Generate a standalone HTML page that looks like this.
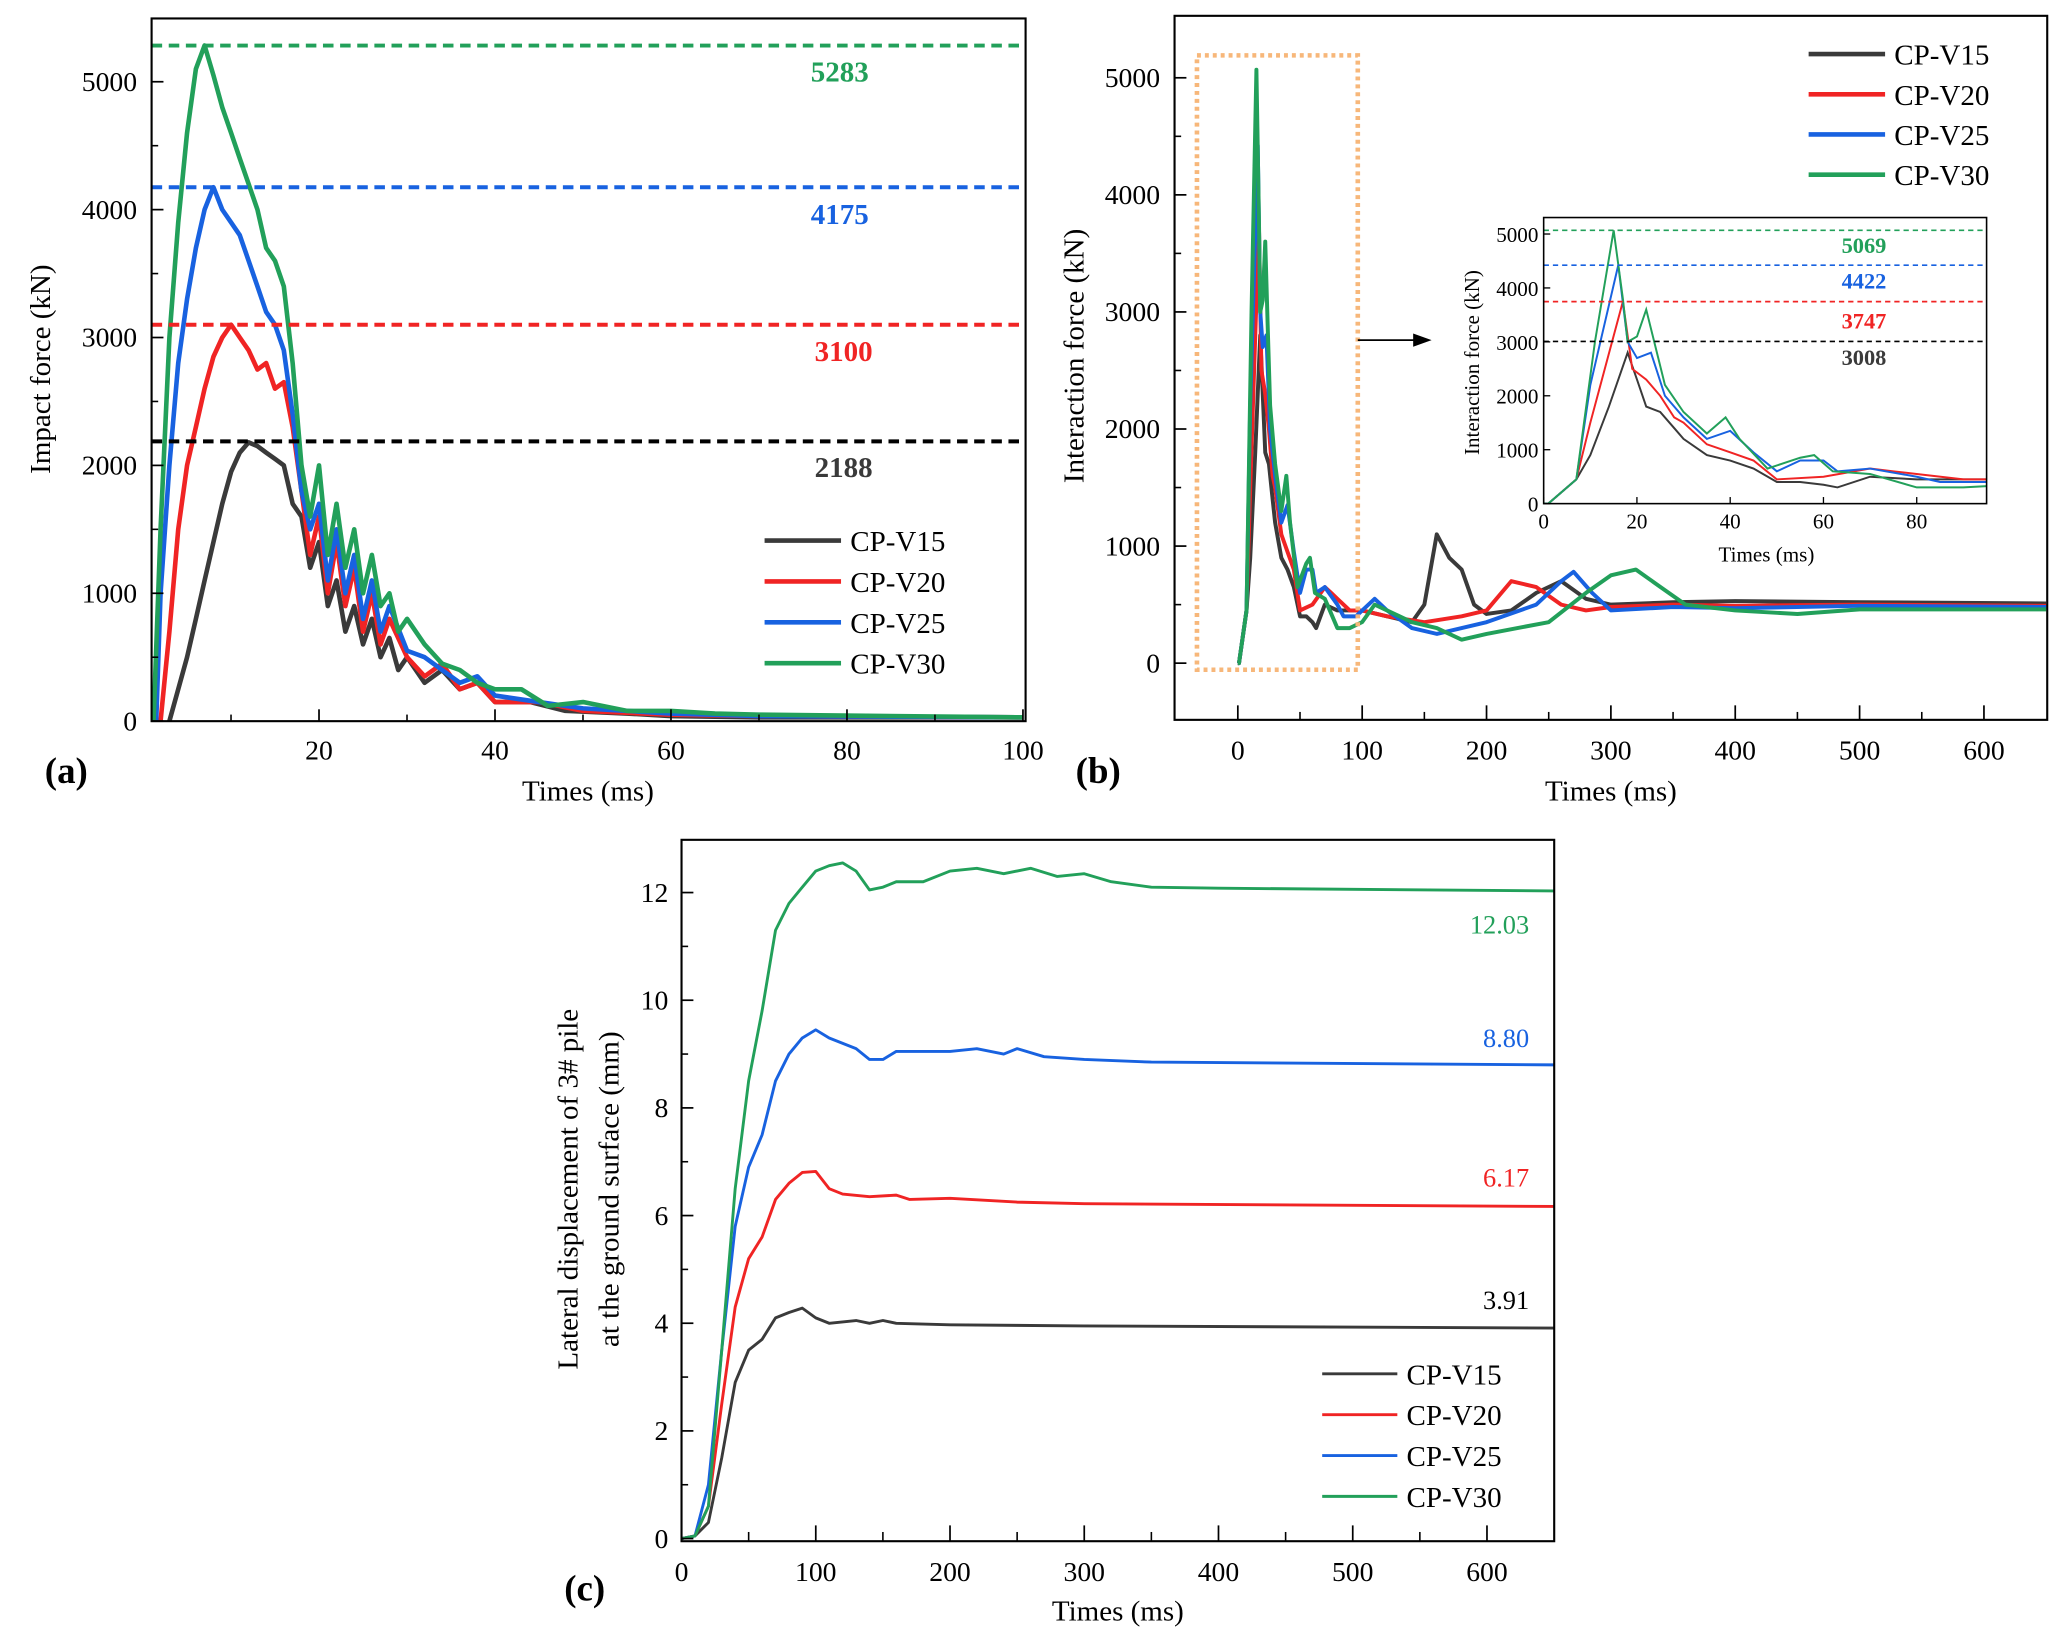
<!DOCTYPE html>
<html><head><meta charset="utf-8"><style>
html,body{margin:0;padding:0;background:#fff}
svg{display:block;font-family:"Liberation Serif",serif}
</style></head><body>
<svg id="fig" width="2067" height="1648" viewBox="0 0 1568 1250" preserveAspectRatio="none" xmlns="http://www.w3.org/2000/svg">
<g id="root"></g>
</svg>
<script>
// ---------- data ----------
const seriesNames = ["CP-V15","CP-V20","CP-V25","CP-V30"];
const aV15 = [[3,0],[4,250],[5,500],[6,800],[7,1100],[8,1400],[9,1700],[10,1950],[11,2100],[12,2180],[13,2150],[14,2100],[15,2050],[16,2000],[17,1700],[18,1600],[19,1200],[20,1400],[21,900],[22,1100],[23,700],[24,900],[25,600],[26,800],[27,500],[28,650],[29,400],[30,500],[32,300],[34,400],[36,250],[38,300],[40,150],[44,150],[48,80],[55,60],[60,40],[70,30],[100,30]];
const aV20 = [[2,0],[3,700],[4,1500],[5,2000],[6,2300],[7,2600],[8,2850],[9,3000],[10,3100],[11,3000],[12,2900],[13,2750],[14,2800],[15,2600],[16,2650],[17,2300],[18,1800],[19,1300],[20,1600],[21,1000],[22,1400],[23,900],[24,1200],[25,700],[26,1000],[27,600],[28,800],[30,500],[32,350],[34,450],[36,250],[38,300],[40,150],[45,150],[50,80],[60,50],[70,40],[100,30]];
const aV25 = [[1.5,0],[2,1000],[3,2000],[4,2800],[5,3300],[6,3700],[7,4000],[8,4175],[9,4000],[10,3900],[11,3800],[12,3600],[13,3400],[14,3200],[15,3100],[16,2900],[17,2400],[18,1800],[19,1500],[20,1700],[21,1100],[22,1500],[23,1000],[24,1300],[25,800],[26,1100],[27,700],[28,900],[30,550],[32,500],[34,400],[36,300],[38,350],[40,200],[45,150],[50,100],[60,60],[70,40],[100,30]];
const aV30 = [[1.2,0],[2,1500],[3,3000],[4,3900],[5,4600],[6,5100],[7,5283],[8,5050],[9,4800],[10,4600],[11,4400],[12,4200],[13,4000],[14,3700],[15,3600],[16,3400],[17,2800],[18,2000],[19,1600],[20,2000],[21,1300],[22,1700],[23,1200],[24,1500],[25,1000],[26,1300],[27,900],[28,1000],[29,700],[30,800],[32,600],[34,450],[36,400],[38,300],[40,250],[43,250],[46,120],[50,150],[55,80],[60,80],[65,60],[70,50],[100,30]];
const aPeaks = [2188,3100,4175,5283];
const aXTicks = [20,40,60,80,100];
const aYTicks = [0,1000,2000,3000,4000,5000];

const bV15 = [[0,0],[1,0],[7,450],[10,900],[14,1800],[18,2800],[20,2300],[22,1800],[25,1700],[28,1400],[30,1200],[35,900],[40,800],[45,650],[50,400],[55,400],[60,350],[63,300],[70,500],[80,450],[90,450],[100,450],[120,400],[140,350],[150,500],[160,1100],[170,900],[180,800],[190,500],[200,420],[220,450],[240,600],[260,700],[280,550],[300,500],[350,520],[400,530],[500,520],[650,510]];
const bV20 = [[0,0],[1,0],[7,450],[10,1500],[17,3747],[19,2500],[22,2300],[25,2000],[28,1600],[30,1500],[35,1100],[40,950],[45,800],[50,450],[60,500],[70,650],[75,600],[80,550],[90,450],[100,450],[120,400],[150,350],[180,400],[200,450],[220,700],[240,650],[260,500],[280,450],[300,480],[350,500],[400,490],[500,500],[650,490]];
const bV25 = [[0,0],[1,0],[7,450],[10,2200],[16,4422],[18,3000],[20,2700],[23,2800],[26,2000],[30,1600],[35,1200],[40,1350],[45,950],[50,600],[55,800],[60,800],[63,600],[70,650],[80,500],[85,400],[95,400],[110,550],[120,450],[140,300],[160,250],[180,300],[200,350],[240,500],[260,700],[270,780],[285,600],[300,450],[350,480],[400,470],[500,490],[650,480]];
const bV30 = [[0,0],[1,0],[7,450],[11,3000],[15,5069],[17,3800],[18,3000],[20,3100],[22,3600],[24,2900],[26,2200],[30,1700],[35,1300],[39,1600],[42,1200],[48,650],[55,850],[58,900],[62,600],[70,550],[80,300],[90,300],[100,350],[110,500],[120,450],[140,350],[160,300],[180,200],[200,250],[250,350],[280,600],[300,750],[320,800],[340,650],[360,500],[400,450],[450,420],[500,460],[650,460]];
const bPeaks = [3008,3747,4422,5069];
const bXTicks = [0,100,200,300,400,500,600];
const bYTicks = [0,1000,2000,3000,4000,5000];
const insetXTicks = [0,20,40,60,80];

const cV15 = [[0,0],[10,0.05],[20,0.3],[30,1.5],[40,2.9],[50,3.5],[60,3.7],[70,4.1],[80,4.2],[90,4.28],[100,4.1],[110,4.0],[130,4.05],[140,4.0],[150,4.05],[160,4.0],[200,3.97],[250,3.96],[300,3.95],[650,3.91]];
const cV20 = [[0,0],[10,0.05],[20,0.6],[30,2.5],[40,4.3],[50,5.2],[60,5.6],[70,6.3],[80,6.6],[90,6.8],[100,6.82],[110,6.5],[120,6.4],[140,6.35],[160,6.38],[170,6.3],[200,6.32],[250,6.25],[300,6.22],[650,6.17]];
const cV25 = [[0,0],[10,0.05],[20,1.0],[30,3.5],[40,5.8],[50,6.9],[60,7.5],[70,8.5],[80,9.0],[90,9.3],[100,9.45],[110,9.3],[130,9.1],[140,8.9],[150,8.9],[160,9.05],[200,9.05],[220,9.1],[240,9.0],[250,9.1],[270,8.95],[300,8.9],[350,8.85],[650,8.80]];
const cV30 = [[0,0],[10,0.05],[20,0.6],[30,3.5],[40,6.5],[50,8.5],[60,9.8],[70,11.3],[80,11.8],[90,12.1],[100,12.4],[110,12.5],[120,12.55],[130,12.4],[140,12.05],[150,12.1],[160,12.2],[180,12.2],[200,12.4],[220,12.45],[240,12.35],[260,12.45],[280,12.3],[300,12.35],[320,12.2],[350,12.1],[400,12.08],[650,12.03]];
const cFinal = ["3.91","6.17","8.80","12.03"];
const cXTicks = [0,100,200,300,400,500,600];
const cYTicks = [0,2,4,6,8,10,12];

const colors = ["#3a3a3a","#f02424","#1862e0","#22a05a"];
const NS = "http://www.w3.org/2000/svg";
const root = document.getElementById("root");
function mk(tag, attrs, parent, text){
  const e = document.createElementNS(NS, tag);
  for (const k in attrs) e.setAttribute(k, attrs[k]);
  if (text !== undefined) e.textContent = text;
  (parent || root).appendChild(e);
  return e;
}
function lin(d0,d1,r0,r1){ return v => r0 + (v-d0)*(r1-r0)/(d1-d0); }
function pathFrom(data, sx, sy, xmax){
  return data.filter(p=>p[0]<=xmax+1e-9).map((p,i)=>(i?"L":"M")+sx(p[0]).toFixed(1)+","+sy(p[1]).toFixed(1)).join(" ");
}

// ---------- panel (a) ----------
(function(){
  const g = mk("g",{});
  
  
  const L=115,R=778,T=14,B=547;
  const sx = lin(20,100,242,776), sy = lin(0,5000,547,62);
  const cp=mk("clipPath",{id:"clipA"},g); mk("rect",{x:L,y:T,width:R-L,height:B-T},cp);
  const data=[aV15,aV20,aV25,aV30];
  const lines = mk("g",{"clip-path":"url(#clipA)"},g);
  for(let i=0;i<4;i++){
    const p = mk("path",{d:pathFrom(data[i],sx,sy,100),fill:"none",stroke:colors[i],"stroke-width":3.5,"stroke-linejoin":"round"},lines);
    
    
  }
  const labY=[362,274,170,62], labX=[640,640,637,637];
  for(let i=0;i<4;i++){
    const l = mk("line",{x1:L,x2:R,y1:sy(aPeaks[i]),y2:sy(aPeaks[i]),stroke:i==0?"#000":colors[i],"stroke-width":3,"stroke-dasharray":"8,5"},g);
    
    
    const t = mk("text",{x:labX[i],y:labY[i],"text-anchor":"middle","font-size":22,"font-weight":"bold",fill:i==0?"#3a3a3a":colors[i]},g,String(aPeaks[i]));
    
    
  }
  mk("rect",{x:L,y:T,width:R-L,height:B-T,fill:"none",stroke:"#000","stroke-width":1.6},g);
  for(const v of aXTicks){ mk("line",{x1:sx(v),x2:sx(v),y1:B,y2:B-9,stroke:"#000","stroke-width":1.3},g);
    const t=mk("text",{x:sx(v),y:576,"text-anchor":"middle","font-size":21},g,String(v));
      }
  for(const v of [10,30,50,70,90]) mk("line",{x1:sx(v),x2:sx(v),y1:B,y2:B-5,stroke:"#000","stroke-width":1.2},g);
  for(const v of aYTicks){ mk("line",{x1:L,x2:L+9,y1:sy(v),y2:sy(v),stroke:"#000","stroke-width":1.3},g);
    const t=mk("text",{x:104,y:sy(v)+7,"text-anchor":"end","font-size":21},g,String(v));
      }
  for(const v of [500,1500,2500,3500,4500]) mk("line",{x1:L,x2:L+5,y1:sy(v),y2:sy(v),stroke:"#000","stroke-width":1.2},g);
  let t=mk("text",{x:446,y:607,"text-anchor":"middle","font-size":22},g,"Times (ms)");
   
  t=mk("text",{transform:"translate(38,280) rotate(-90)","text-anchor":"middle","font-size":22},g,"Impact force (kN)");
   
  t=mk("text",{x:34,y:594,"font-size":28,"font-weight":"bold"},g,"(a)");
   
  for(let i=0;i<4;i++){ const y=410+i*31;
    const lg=mk("g",{},g);  
    mk("line",{x1:580,x2:638,y1:y,y2:y,stroke:colors[i],"stroke-width":3.5},lg);
    mk("text",{x:645,y:y+8,"font-size":22},lg,seriesNames[i]); }
})();

// ---------- panel (b) ----------
(function(){
  const g = mk("g",{});
  
  
  const L=891,R=1553,T=12,B=546;
  const sx = lin(0,600,939,1505), sy = lin(0,5000,503,59);
  const cp=mk("clipPath",{id:"clipB"},g); mk("rect",{x:L,y:T,width:R-L,height:B-T},cp);
  const data=[bV15,bV20,bV25,bV30];
  const lines = mk("g",{"clip-path":"url(#clipB)"},g);
  for(let i=0;i<4;i++){
    const p=mk("path",{d:pathFrom(data[i],sx,sy,650),fill:"none",stroke:colors[i],"stroke-width":3,"stroke-linejoin":"round"},lines);
    
    
  }
  const zb=mk("rect",{x:908,y:42,width:122,height:466,fill:"none",stroke:"#f7b77a","stroke-width":3.5,"stroke-dasharray":"3,3"},g);
   
  mk("rect",{x:L,y:T,width:R-L,height:B-T,fill:"none",stroke:"#000","stroke-width":1.6},g);
  for(const v of bXTicks){ mk("line",{x1:sx(v),x2:sx(v),y1:B,y2:B-11,stroke:"#000","stroke-width":1.3},g);
    const t=mk("text",{x:sx(v),y:576,"text-anchor":"middle","font-size":21},g,String(v));
      }
  for(const v of [50,150,250,350,450,550]) mk("line",{x1:sx(v),x2:sx(v),y1:B,y2:B-6,stroke:"#000","stroke-width":1.2},g);
  for(const v of bYTicks){ mk("line",{x1:L,x2:L+9,y1:sy(v),y2:sy(v),stroke:"#000","stroke-width":1.3},g);
    const t=mk("text",{x:880,y:sy(v)+7,"text-anchor":"end","font-size":21},g,String(v));
      }
  for(const v of [500,1500,2500,3500,4500]) mk("line",{x1:L,x2:L+5,y1:sy(v),y2:sy(v),stroke:"#000","stroke-width":1.2},g);
  let t=mk("text",{x:1222,y:607,"text-anchor":"middle","font-size":22},g,"Times (ms)");
   
  t=mk("text",{transform:"translate(822,270) rotate(-90)","text-anchor":"middle","font-size":22},g,"Interaction force (kN)");
   
  t=mk("text",{x:816,y:594,"font-size":28,"font-weight":"bold"},g,"(b)");
   
  for(let i=0;i<4;i++){ const y=41+i*30.5;
    const lg=mk("g",{},g);  
    mk("line",{x1:1372,x2:1430,y1:y,y2:y,stroke:colors[i],"stroke-width":3.5},lg);
    mk("text",{x:1437,y:y+8,"font-size":22},lg,seriesNames[i]); }
  const ar=mk("g",{},g);  
  mk("line",{x1:1030,x2:1074,y1:258,y2:258,stroke:"#000","stroke-width":1.3},ar);
  mk("polygon",{points:"1086,258 1072,253 1072,263",fill:"#000"},ar);

  // inset
  const ig=mk("g",{},g);  
  const iL=1171,iR=1507,iT=165,iB=382;
  const ix=lin(0,80,1171,1454), iy=lin(0,5000,382,177.5);
  mk("rect",{x:iL,y:iT,width:iR-iL,height:iB-iT,fill:"#fff"},ig);
  const cp2=mk("clipPath",{id:"clipI"},ig); mk("rect",{x:iL,y:iT,width:iR-iL,height:iB-iT},cp2);
  const il=mk("g",{"clip-path":"url(#clipI)"},ig);
  for(let i=0;i<4;i++){
    const p=mk("path",{d:pathFrom(data[i],ix,iy,110),fill:"none",stroke:colors[i],"stroke-width":1.5},il);
    
    
  }
  const iLabY=[277,249,219,192];
  for(let i=0;i<4;i++){
    mk("line",{x1:iL,x2:iR,y1:iy(bPeaks[i]),y2:iy(bPeaks[i]),stroke:i==0?"#000":colors[i],"stroke-width":1.3,"stroke-dasharray":"4,3"},ig);
    const tt=mk("text",{x:1414,y:iLabY[i],"text-anchor":"middle","font-size":17,"font-weight":"bold",fill:i==0?"#3a3a3a":colors[i]},ig,String(bPeaks[i]));
     
  }
  mk("rect",{x:iL,y:iT,width:iR-iL,height:iB-iT,fill:"none",stroke:"#000","stroke-width":1.2},ig);
  for(const v of insetXTicks){ mk("line",{x1:ix(v),x2:ix(v),y1:iB,y2:iB-5,stroke:"#000"},ig);
    mk("text",{x:ix(v),y:401,"text-anchor":"middle","font-size":16},ig,String(v)); }
  for(const v of bYTicks){ mk("line",{x1:iL,x2:iL+5,y1:iy(v),y2:iy(v),stroke:"#000"},ig);
    mk("text",{x:1167,y:iy(v)+6,"text-anchor":"end","font-size":16},ig,String(v)); }
  mk("text",{x:1340,y:426,"text-anchor":"middle","font-size":16},ig,"Times (ms)");
  mk("text",{transform:"translate(1122,275) rotate(-90)","text-anchor":"middle","font-size":16},ig,"Interaction force (kN)");
})();

// ---------- panel (c) ----------
(function(){
  const g = mk("g",{});
  
  
  const L=517,R=1179,T=637,B=1169;
  const sx = lin(0,600,517,1128), sy = lin(0,12,1167,677);
  const cp=mk("clipPath",{id:"clipC"},g); mk("rect",{x:L,y:T,width:R-L,height:B-T},cp);
  const data=[cV15,cV20,cV25,cV30];
  const lines=mk("g",{"clip-path":"url(#clipC)"},g);
  for(let i=0;i<4;i++){
    const p=mk("path",{d:pathFrom(data[i],sx,sy,650),fill:"none",stroke:colors[i],"stroke-width":2.2,"stroke-linejoin":"round"},lines);
    
    
  }
  const fy=[993,900,794,708];
  for(let i=0;i<4;i++){ const t=mk("text",{x:1160,y:fy[i],"text-anchor":"end","font-size":20,fill:i==0?"#000":colors[i]},g,cFinal[i]);
      }
  mk("rect",{x:L,y:T,width:R-L,height:B-T,fill:"none",stroke:"#000","stroke-width":1.6},g);
  for(const v of cXTicks){ mk("line",{x1:sx(v),x2:sx(v),y1:B,y2:B-12,stroke:"#000","stroke-width":1.3},g);
    const t=mk("text",{x:sx(v),y:1199,"text-anchor":"middle","font-size":21},g,String(v));
      }
  for(const v of [50,150,250,350,450,550]) mk("line",{x1:sx(v),x2:sx(v),y1:B,y2:B-7,stroke:"#000","stroke-width":1.2},g);
  for(const v of cYTicks){ mk("line",{x1:L,x2:L+9,y1:sy(v),y2:sy(v),stroke:"#000","stroke-width":1.3},g);
    const t=mk("text",{x:507,y:sy(v)+7,"text-anchor":"end","font-size":21},g,String(v));
      }
  for(const v of [1,3,5,7,9,11]) mk("line",{x1:L,x2:L+5,y1:sy(v),y2:sy(v),stroke:"#000","stroke-width":1.2},g);
  let t=mk("text",{x:848,y:1229,"text-anchor":"middle","font-size":22},g,"Times (ms)");
   
  t=mk("text",{transform:"translate(438,902) rotate(-90)","text-anchor":"middle","font-size":22},g,"Lateral displacement of 3# pile");
   
  t=mk("text",{transform:"translate(469,902) rotate(-90)","text-anchor":"middle","font-size":22},g,"at the ground surface (mm)");
   
  t=mk("text",{x:428,y:1214,"font-size":28,"font-weight":"bold"},g,"(c)");
   
  for(let i=0;i<4;i++){ const y=1042+i*31;
    const lg=mk("g",{},g);  
    mk("line",{x1:1003,x2:1060,y1:y,y2:y,stroke:colors[i],"stroke-width":2.2},lg);
    mk("text",{x:1067,y:y+8,"font-size":22},lg,seriesNames[i]); }
})();
</script>
</body></html>
